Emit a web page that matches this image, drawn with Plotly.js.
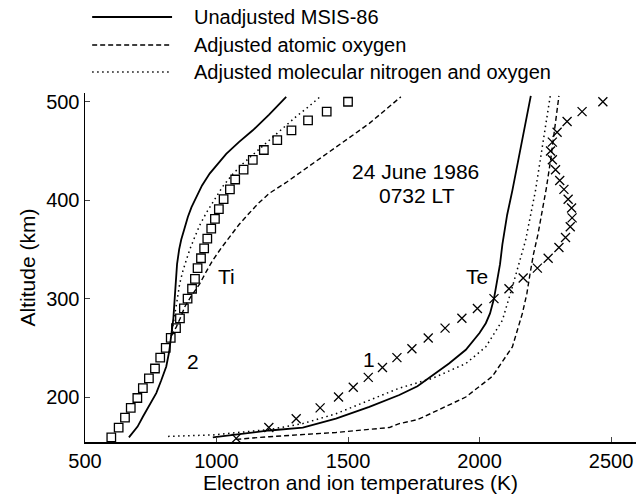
<!DOCTYPE html>
<html>
<head>
<meta charset="utf-8">
<script src="https://cdn.plot.ly/plotly-3.0.1.min.js"></script>
<style>html,body{margin:0;padding:0;background:#fff;}#chart{width:636px;height:499px;}</style>
</head>
<body>
<div id="chart"></div>
<script>
// ---- Data (temperature K, altitude km) ----
// Ion temperature, measured (squares)
var tiObsT = [600,628,652,674,699,720,743,766,786,807,826,846,861,876,890,907,918,928,941,953,965,980,994,1009,1027,1051,1071,1103,1138,1180,1231,1285,1348,1419,1500];
var tiObsAlt = [159,169,179,189,199,209,219,229,240,250,260,270,280,290,300,310,320,331,341,351,361,371,381,391,401,411,421,431,441,451,461,471,481,490,500];
// Electron temperature, measured (crosses)
var teObsT = [1075,1199,1303,1394,1464,1520,1577,1631,1686,1743,1805,1869,1933,1992,2055,2112,2166,2220,2261,2302,2327,2345,2352,2350,2337,2321,2305,2289,2277,2270,2277,2295,2333,2390,2469];
var teObsAlt = [158,169,178,189,200,210,220,230,240,249,260,270,280,290,300,310,321,331,341,352,362,373,382,392,401,411,420,431,441,450,459,469,480,490,500];

// Model: Unadjusted MSIS-86 (solid)
var tiMsisT = [667,700,720,745,771,790,809,820,828,836,841,846,850,858,866,878,891,905,923,945,974,1005,1037,1085,1138,1200,1265];
var tiMsisAlt = [159,170,180,192,204,217,231,246,261,280,300,320,335,350,360,371,383,393,403,415,427,437,447,459,471,487,505];
var teMsisT = [986,1100,1201,1328,1454,1581,1695,1764,1821,1884,1948,2000,2024,2040,2055,2068,2078,2087,2105,2125,2145,2163,2180,2195];
var teMsisAlt = [159,163,166,169,178,190,202,211,222,234,248,265,275,285,300,320,335,355,385,410,437,461,485,506];

// Model: Adjusted atomic oxygen (dashed)
var tiOxT = [828,847,862,880,905,936,960,986,1017,1050,1085,1125,1160,1201,1265,1328,1390,1454,1518,1581,1640,1701];
var tiOxAlt = [262,271,280,292,303,315,327,339,351,363,375,387,397,407,418,430,442,454,466,478,491,505];
var teOxT = [1075,1201,1454,1657,1695,1764,1821,1948,2049,2125,2163,2180,2192,2205,2222,2240,2254,2270,2285,2302];
var teOxAlt = [157,159.7,164,169,173,177,184,200,221,251,285,305,325,345,365,390,412,440,471,506];

// Model: Adjusted molecular nitrogen and oxygen (dotted)
var tiMolT = [828,840,850,860,871,885,900,918,937,961,990,1024,1060,1100,1150,1201,1250,1303,1350,1398];
var tiMolAlt = [262,280,298,315,327,339,351,363,375,387,400,414,426,437,449,461,473,485,495,506];
var teMolT = [816,986,1201,1328,1454,1581,1695,1821,1948,2024,2087,2125,2150,2175,2213,2244,2269];
var teMolAlt = [160,161.5,167,173,183,197,209,219,234,251,278,312,335,359,410,461,506];

// Legend / labels
var legendNames = ["Unadjusted MSIS-86", "Adjusted atomic oxygen", "Adjusted molecular nitrogen and oxygen"];
var xTicks = [500,1000,1500,2000,2500];
var yTicks = [200,300,400,500];

var FONT = "Liberation Sans, Arial, Helvetica, sans-serif";
var solid = {color:'#000', width:1.8, dash:'solid'};
var dashed = {color:'#000', width:1.4, dash:'5px,3px'};
var dotted = {color:'#000', width:1.5, dash:'1.5px,3.5px'};

function ln(x, y, style){ return {x:x, y:y, mode:'lines', line:style, showlegend:false, hoverinfo:'skip'}; }

var traces = [
  ln(tiMsisT, tiMsisAlt, solid),
  ln(teMsisT, teMsisAlt, solid),
  ln(tiOxT, tiOxAlt, dashed),
  ln(teOxT, teOxAlt, dashed),
  ln(tiMolT, tiMolAlt, dotted),
  ln(teMolT, teMolAlt, dotted),
  {x:tiObsT, y:tiObsAlt, mode:'markers', showlegend:false,
   marker:{symbol:'square-open', size:8.5, color:'#000', line:{width:1.3, color:'#000'}}},
  {x:teObsT, y:teObsAlt, mode:'markers', showlegend:false,
   marker:{symbol:'x-thin-open', size:9, color:'#000', line:{width:1.3, color:'#000'}}}
];

// Legend drawn manually (paper coordinates)
var legY = [1.2178, 1.1375, 1.0602];
var legStyles = [solid, dashed, dotted];
var shapes = [];
var annotations = [];
for (var i = 0; i < 3; i++) {
  shapes.push({type:'line', xref:'paper', yref:'paper', x0:0.013, x1:0.158, y0:legY[i], y1:legY[i], line:legStyles[i]});
  annotations.push({xref:'paper', yref:'paper', x:0.194, y:legY[i], xanchor:'left', yanchor:'middle',
    text:legendNames[i], showarrow:false, font:{family:FONT, size:20, color:'#000'}});
}
function lab(x, y, t){ return {x:x, y:y, xref:'x', yref:'y', text:t, showarrow:false, font:{family:FONT, size:21, color:'#000'}}; }
annotations.push(lab(1037, 322, 'Ti'));
annotations.push(lab(910, 236, '2'));
annotations.push(lab(1992, 322, 'Te'));
annotations.push(lab(1581, 238, '1'));
annotations.push(lab(1755, 429, '24 June 1986'));
annotations.push(lab(1762, 405, '0732 LT'));

var layout = {
  width:636, height:499,
  margin:{l:85, r:0, t:93, b:57},
  paper_bgcolor:'#fff', plot_bgcolor:'#fff',
  font:{family:FONT, size:20, color:'#000'},
  showlegend:false,
  xaxis:{range:[500,2595], tickvals:xTicks, ticktext:xTicks.map(String), ticks:'inside', ticklen:5, tickwidth:1,
    showline:true, linecolor:'#000', linewidth:1.5, showgrid:false, zeroline:false, mirror:false,
    tickfont:{family:FONT, size:20}, title:{text:'Electron and ion temperatures (K)', font:{family:FONT, size:21}, standoff:5}},
  yaxis:{range:[154.3,508.9], tickvals:yTicks, ticktext:yTicks.map(String), ticks:'inside', ticklen:5, tickwidth:1,
    showline:true, linecolor:'#000', linewidth:1.5, showgrid:false, zeroline:false, mirror:false,
    tickfont:{family:FONT, size:20}, title:{text:'Altitude (km)', font:{family:FONT, size:21}, standoff:5}},
  shapes:shapes,
  annotations:annotations
};

Plotly.newPlot('chart', traces, layout, {staticPlot:true, displayModeBar:false});
</script>
</body>
</html>
